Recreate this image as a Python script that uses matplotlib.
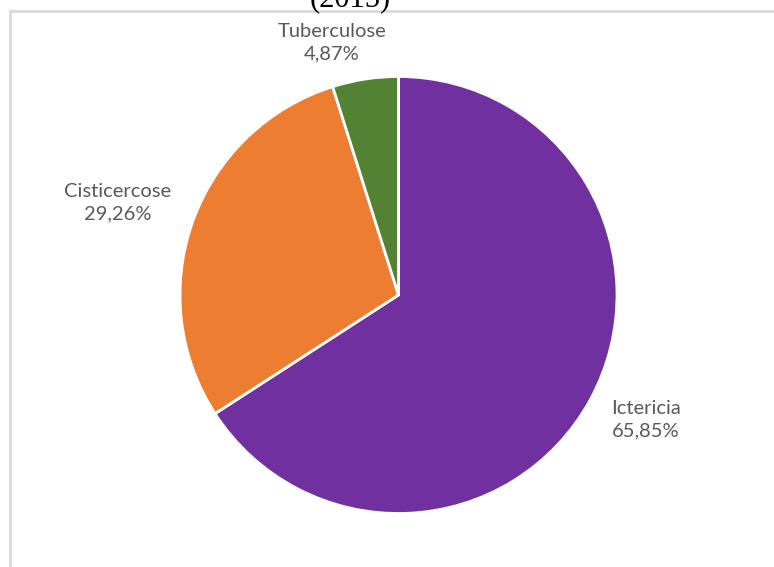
import matplotlib.pyplot as plt
from matplotlib.lines import Line2D

# data
categories = ['Ictericia', 'Cisticercose', 'Tuberculose']
values = [65.85, 29.26, 4.87]
colors = ['#7030A0', '#ED7D31', '#548235']

W, H = 774, 567
fig = plt.figure(figsize=(W / 100, H / 100), dpi=100)

# pie centre and radius in pixels
cx, cy, r = 398.5, 295, 218.5
ax = fig.add_axes([(cx - r) / W, (H - cy - r) / H, 2 * r / W, 2 * r / H])
ax.pie(values, colors=colors, startangle=90, counterclock=False, radius=1,
       wedgeprops=dict(edgecolor='white', linewidth=2))
ax.set_xlim(-1, 1)
ax.set_ylim(-1, 1)
ax.set_aspect('equal')
ax.axis('off')

# label positions (data coords, radius 1)
label_pos = [(1.133, -0.572), (-1.284, 0.421), (-0.304, 1.153)]
for name, v, (lx, ly) in zip(categories, values, label_pos):
    txt = name + '\n' + f'{v:.2f}'.replace('.', ',') + '%'
    ax.text(lx, ly, txt, ha='center', va='center', fontsize=14.5,
            family='Lato', color='#595959', linespacing=1.4, clip_on=False)

# chart frame
fc = '#d9d9d9'
fig.add_artist(Line2D([9.5 / W, 9.5 / W], [0, 1 - 11 / H], color=fc, lw=2,
                      transform=fig.transFigure))
fig.add_artist(Line2D([9.5 / W, 1], [1 - 11 / H, 1 - 11 / H], color=fc, lw=2,
                      transform=fig.transFigure))

# title, cut off at the top edge as in the source
fig.text(350 / W, 1 - 6 / H, '(2015)', ha='center', va='baseline',
         fontsize=22, family='Liberation Serif', color='black')

fig.savefig('out.png', dpi=100)
